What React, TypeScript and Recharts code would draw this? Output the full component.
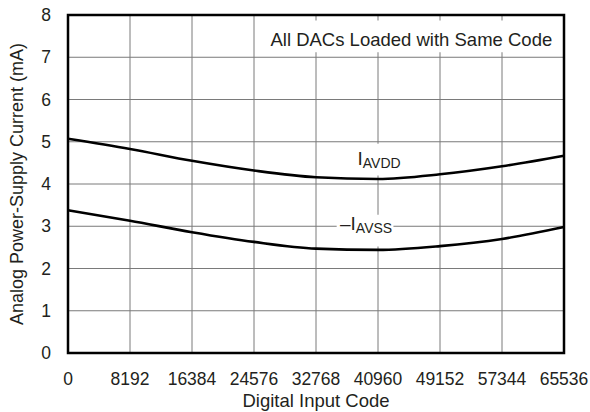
import React from "react";
import {
  LineChart,
  Line,
  XAxis,
  YAxis,
  CartesianGrid,
  ReferenceArea,
  Label,
} from "recharts";

const codes = [0, 8192, 16384, 24576, 32768, 40960, 49152, 57344, 65536];
const iavdd = [5.07, 4.83, 4.55, 4.32, 4.16, 4.12, 4.23, 4.42, 4.67];
const iavssNeg = [3.38, 3.13, 2.86, 2.63, 2.47, 2.44, 2.53, 2.7, 2.98];
const xTicks = [0, 8192, 16384, 24576, 32768, 40960, 49152, 57344, 65536];
const yTicks = [0, 1, 2, 3, 4, 5, 6, 7, 8];

const data = codes.map((c, i) => ({ code: c, avdd: iavdd[i], avss: iavssNeg[i] }));

const FONT = '"Liberation Sans", Arial, Helvetica, sans-serif';
const TXT = "#231f20";

const AllLabel = (props: any) => {
  const vb = props.viewBox || {};
  return (
    <text
      x={vb.x + vb.width / 2}
      y={vb.y + 26}
      textAnchor="middle"
      fontFamily={FONT}
      fontSize={18.5}
      fill={TXT}
    >
      All DACs Loaded with Same Code
    </text>
  );
};

const AvddLabel = (props: any) => {
  const vb = props.viewBox || {};
  return (
    <text
      x={vb.x + vb.width / 2 + 1.5}
      y={vb.y + 21}
      textAnchor="middle"
      fontFamily={FONT}
      fontSize={19}
      fill={TXT}
    >
      <tspan>I</tspan>
      <tspan fontSize={14} dy={3}>AVDD</tspan>
    </text>
  );
};

const AvssLabel = (props: any) => {
  const vb = props.viewBox || {};
  return (
    <text
      x={vb.x + vb.width / 2 + 1}
      y={vb.y + 15.5}
      textAnchor="middle"
      fontFamily={FONT}
      fontSize={19}
      fill={TXT}
    >
      <tspan>{"\u2013I"}</tspan>
      <tspan fontSize={14} dy={3}>AVSS</tspan>
    </text>
  );
};

const YTitle = (props: any) => {
  const vb = props.viewBox || {};
  const cx = 17;
  const cy = vb.y + vb.height / 2;
  return (
    <text
      x={cx}
      y={cy}
      transform={`rotate(-90, ${cx}, ${cy})`}
      textAnchor="middle"
      dominantBaseline="central"
      fontFamily={FONT}
      fontSize={18}
      fill={TXT}
    >
      Analog Power-Supply Current (mA)
    </text>
  );
};

export default function App() {
  return (
    <div style={{ position: "absolute", left: 0, top: 0, width: 590, height: 412, background: "#fff" }}>
      <LineChart
        width={590}
        height={412}
        data={data}
        margin={{ top: 15, right: 26, bottom: 0, left: 0 }}
      >
        <CartesianGrid stroke="#7a7a7a" strokeWidth={1} />
        <XAxis
          dataKey="code"
          type="number"
          domain={[0, 65536]}
          ticks={xTicks}
          interval={0}
          axisLine={false}
          tickLine={false}
          tickSize={0}
          tickMargin={20}
          height={59}
          tick={{ fontFamily: FONT, fontSize: 17.5, fill: TXT }}
        >
          <Label
            value="Digital Input Code"
            position="insideBottom"
            offset={5}
            style={{ fontFamily: FONT, fontSize: 18.5, fill: TXT }}
          />
        </XAxis>
        <YAxis
          type="number"
          domain={[0, 8]}
          ticks={yTicks}
          interval={0}
          axisLine={false}
          tickLine={false}
          tickSize={0}
          tickMargin={17}
          width={68}
          tick={{ fontFamily: FONT, fontSize: 17.5, fill: TXT }}
        >
          <Label content={YTitle} />
        </YAxis>
        <ReferenceArea x1={25200} x2={65536} y1={7.12} y2={7.87} fill="#fff" fillOpacity={1} stroke="none">
          <Label content={AllLabel} />
        </ReferenceArea>
        <ReferenceArea x1={37000} x2={44800} y1={4.2} y2={4.95} fill="#fff" fillOpacity={1} stroke="none">
          <Label content={AvddLabel} />
        </ReferenceArea>
        <ReferenceArea x1={35500} x2={43000} y1={2.52} y2={3.27} fill="#fff" fillOpacity={1} stroke="none">
          <Label content={AvssLabel} />
        </ReferenceArea>
        <Line
          type="monotone"
          dataKey="avdd"
          stroke="#000"
          strokeWidth={2.6}
          dot={false}
          isAnimationActive={false}
        />
        <Line
          type="monotone"
          dataKey="avss"
          stroke="#000"
          strokeWidth={2.6}
          dot={false}
          isAnimationActive={false}
        />
        <ReferenceArea x1={0} x2={65536} y1={0} y2={8} fill="none" stroke="#000" strokeWidth={2.5} />
      </LineChart>
    </div>
  );
}
